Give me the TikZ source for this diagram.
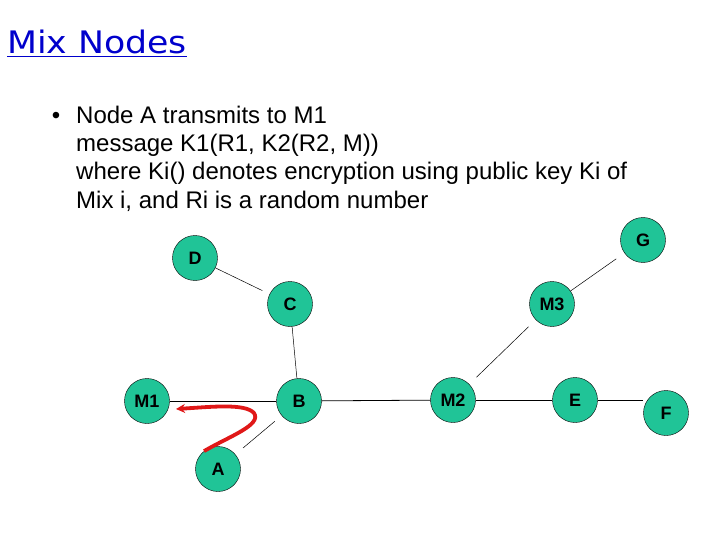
\documentclass[tikz,border=0pt]{standalone}
\usepackage{fontspec}
\setmainfont{Liberation Sans}
\newfontfamily\titlefont[FakeStretch=1.12]{DejaVu Sans}
\usetikzlibrary{arrows.meta}
\definecolor{MixGreen}{HTML}{20C497}
\definecolor{TitleBlue}{HTML}{0000CC}
\definecolor{ArrowRed}{HTML}{E01818}
\tikzset{
  mixnode/.style  = {circle, draw=black, fill=MixGreen, minimum size=45pt,
                     inner sep=0pt, font=\fontsize{18}{18}\selectfont\bfseries},
  link/.style     = {draw=black, line width=0.8pt},
  thinlink/.style = {draw=black, line width=0.5pt},
  txt/.style      = {anchor=base west, inner sep=0pt,
                     font=\fontsize{24}{28}\selectfont},
  flecha/.style   = {-{Stealth[length=9pt,width=9pt]}, draw=ArrowRed,
                     line width=3.8pt},
}

\begin{document}
\begin{tikzpicture}[x=1pt,y=-1pt]
  \useasboundingbox (0,0) rectangle (720,540);

  % title and text
  \node[anchor=base west, inner sep=0pt, text=TitleBlue,
        font=\titlefont\fontsize{31}{31}\selectfont] (title) at (7,54)
        {\underline{Mix Nodes}};
  \node[anchor=base, inner sep=0pt, font=\fontsize{24}{28}\selectfont]
        (bullet) at (56,124) {•};
  \node[txt] (line1) at (76,124) {Node A transmits to M1};
  \node[txt] (line2) at (76,152) {message K1(R1, K2(R2, M))};
  \node[txt] (line3) at (76,180) {where Ki() denotes encryption using public key Ki of};
  \node[txt] (line4) at (76,208) {Mix i, and Ri is a random number};

  % mix network
  \node[mixnode] (D)  at (195,258) {D};
  \node[mixnode] (C)  at (290,304) {C};
  \node[mixnode] (M1) at (147,401) {M1};
  \node[mixnode] (B)  at (299,401) {B};
  \node[mixnode] (A)  at (218,469) {A};
  \node[mixnode] (G)  at (643,240) {G};
  \node[mixnode] (M3) at (552,304) {M3};
  \node[mixnode] (M2) at (453,400) {M2};
  \node[mixnode] (E)  at (575,400) {E};
  \node[mixnode] (F)  at (666,413) {F};

  \draw[thinlink, shorten >=8pt] (D) -- (C);
  \draw[thinlink] (C) -- (B);
  \draw[link] (M1) -- (B);
  \draw[link] (B) -- (M2);
  \draw[link] (M2) -- (E);
  \draw[link] (E.east) -- (F.west |- E.east);
  \draw[thinlink, shorten <=10pt, shorten >=9pt] (A) -- (B);
  \draw[thinlink, shorten <=10pt, shorten >=10pt] (M2) -- (M3);
  \draw[thinlink, shorten >=10pt] (M3) -- (G);

  % red path from A towards M1
  \coordinate (turn) at (254,413);
  \coordinate (tip) at (176,409);
  \draw[flecha] (A.128) .. controls (230,436) and (262,425) .. (turn)
        .. controls (245,403) and (210,407) .. (tip);
\end{tikzpicture}
\end{document}
